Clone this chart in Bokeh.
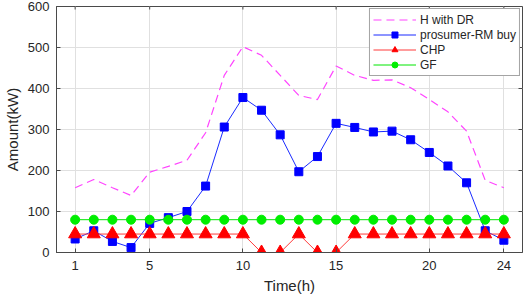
import math
from bokeh.plotting import figure
from bokeh.models import Range1d, FixedTicker, Legend, LegendItem
from bokeh.embed import file_html
from bokeh.resources import INLINE

hours = [1, 2, 3, 4, 5, 6, 7, 8, 9, 10, 11, 12, 13, 14, 15, 16, 17, 18, 19, 20, 21, 22, 23, 24]
h_with_dr = [158, 178, 158, 139, 196, 210, 225, 292, 432, 502, 481, 432,
             383, 373, 455, 432, 420, 421, 402, 373, 343, 296, 176, 158]
prosumer_rm_buy = [33, 53, 27, 12, 71, 85, 100, 162, 306, 378, 347, 287,
                   197, 234, 315, 305, 294, 296, 275, 244, 211, 170, 53, 30]
chp = [45, 45, 45, 45, 45, 45, 45, 45, 45, 45, 0, 0,
       45, 0, 0, 45, 45, 45, 45, 45, 45, 45, 45, 45]
gf = [80, 80, 80, 80, 80, 80, 80, 80, 80, 80, 80, 80,
      80, 80, 80, 80, 80, 80, 80, 80, 80, 80, 80, 80]
x_ticks = [1, 5, 10, 15, 20, 24]
y_ticks = [0, 100, 200, 300, 400, 500, 600]
x_lim = (0, 25)
y_lim = (0, 600)

FONT = "Liberation Sans"
AXC = "#4a4a4a"
TXT = "#262626"

p = figure(width=526, height=296, output_backend="svg", toolbar_location=None,
           x_range=Range1d(*x_lim), y_range=Range1d(*y_lim),
           min_border_left=52, min_border_right=4, min_border_top=6, min_border_bottom=44)
p.background_fill_color = "white"
p.border_fill_color = "white"
p.outline_line_color = AXC
p.outline_line_width = 1

for ax in (p.xaxis[0], p.yaxis[0]):
    ax.axis_line_color = AXC
    ax.major_tick_line_color = AXC
    ax.major_tick_in = 4
    ax.major_tick_out = 0
    ax.minor_tick_line_color = None
    ax.major_label_text_font = FONT
    ax.major_label_text_font_size = "13px"
    ax.major_label_text_color = TXT
    ax.axis_label_text_font = FONT
    ax.axis_label_text_font_size = "15px"
    ax.axis_label_text_font_style = "normal"
    ax.axis_label_text_color = TXT

p.xaxis.ticker = FixedTicker(ticks=x_ticks)
p.yaxis.ticker = FixedTicker(ticks=y_ticks)
p.xaxis.axis_label = "Time(h)"
p.yaxis.axis_label = "Amount(kW)"
p.xaxis.major_label_standoff = 8
p.xaxis.axis_label_standoff = 4
p.yaxis.major_label_standoff = 7
p.yaxis.axis_label_standoff = 4

p.xgrid.ticker = FixedTicker(ticks=x_ticks)
p.ygrid.ticker = FixedTicker(ticks=y_ticks)
p.grid.grid_line_color = "#e0e0e0"
p.grid.grid_line_width = 1

# inward ticks on the top and right box edges (screen-length rays)
p.ray(x=[x_lim[1]] * len(y_ticks), y=y_ticks, length=4, length_units="screen",
      angle=math.pi, line_color=AXC, line_width=1)
p.ray(x=x_ticks, y=[y_lim[1]] * len(x_ticks), length=3, length_units="screen",
      angle=-math.pi / 2, line_color=AXC, line_width=1)

r_h = p.line(hours, h_with_dr, line_color="#ff44ff", line_width=1.2, line_dash="8 5")
r_bl = p.line(hours, prosumer_rm_buy, line_color="#1a2bff", line_width=1)
r_bm = p.scatter(hours, prosumer_rm_buy, marker="square", size=8,
                 fill_color="#0000ff", line_color="#0000ff")
r_cl = p.line(hours, chp, line_color="#ff3b3b", line_width=1)
r_cm = p.scatter(hours, chp, marker="triangle", size=13,
                 fill_color="#ff0000", line_color="#ff0000")
r_gl = p.line(hours, gf, line_color="#00e600", line_width=1)
r_gm = p.scatter(hours, gf, marker="circle", size=9,
                 fill_color="#00ee00", line_color="#00ee00")

legend = Legend(items=[
    LegendItem(label="H with DR", renderers=[r_h]),
    LegendItem(label="prosumer-RM buy", renderers=[r_bl, r_bm]),
    LegendItem(label="CHP", renderers=[r_cl, r_cm]),
    LegendItem(label="GF", renderers=[r_gl, r_gm]),
], location="top_right")
legend.margin = 2
legend.padding = 3
legend.spacing = 0
legend.glyph_width = 43
legend.glyph_height = 15
legend.label_height = 15
legend.label_standoff = 4
legend.label_text_font = FONT
legend.label_text_font_size = "12px"
legend.label_text_color = TXT
legend.border_line_color = AXC
legend.border_line_width = 1
legend.background_fill_color = "white"
legend.background_fill_alpha = 1
p.add_layout(legend, "center")

open("out.html", "w").write(file_html(p, INLINE))
